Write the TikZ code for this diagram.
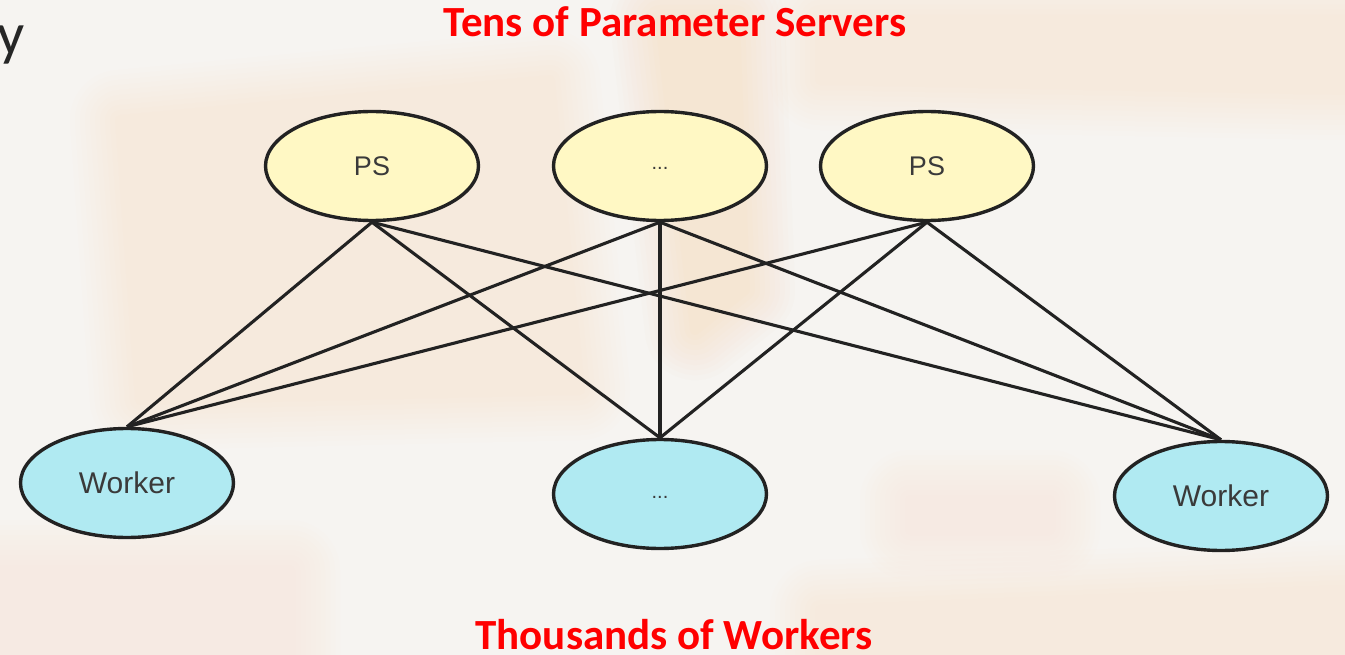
\documentclass[tikz,border=0pt]{standalone}
\usepackage{fontspec}
\usetikzlibrary{shapes.geometric}
\newfontfamily\titlefont{Carlito}
\newfontfamily\labelfont{Liberation Sans}

\definecolor{paper}{RGB}{246,244,241}
\definecolor{peach}{RGB}{252,224,182}
\definecolor{amber}{RGB}{245,205,150}
\definecolor{psfill}{RGB}{255,248,196}
\definecolor{wkfill}{RGB}{176,234,242}
\definecolor{edgeink}{RGB}{34,34,34}
\definecolor{labelink}{RGB}{58,58,58}
\definecolor{headred}{RGB}{255,0,0}

% a soft, hazy patch: the shape grown by ever smaller margins, each layer
% painted as one faint group so that layers only add up where they nest
\newcommand{\hazepatch}[3]{%
  \pgfmathsetmacro{\hazestep}{#2/10}%
  \foreach \w in {100,90,...,10}{%
    \begin{scope}[transparency group, opacity=\hazestep]
      \fill[#1, draw=#1, line width=\w pt, line join=round] #3;
    \end{scope}
  }%
}

\tikzset{
  server/.style={ellipse, draw=edgeink, line width=3.4pt, fill=psfill,
    minimum width=213pt, minimum height=109pt, inner sep=0pt,
    text=labelink, font=\labelfont\fontsize{27}{27}\selectfont},
  worker/.style={server, fill=wkfill, font=\labelfont\fontsize{30}{30}\selectfont},
  link/.style={draw=edgeink, line width=3.1pt},
  headline/.style={text=headred, inner sep=0pt, anchor=base,
    font=\titlefont\bfseries\fontsize{43}{43}\selectfont},
}

\begin{document}
\begin{tikzpicture}[x=1pt, y=-1pt]
  \useasboundingbox (0,0) rectangle (1345,655);
  \begin{scope}
    \clip (0,0) rectangle (1345,655);
    \fill[paper] (0,0) rectangle (1345,655);
    % warm blurred shapes of the backdrop
    \hazepatch{peach}{0.30}{(120,120) -- (550,80) -- (580,390) -- (140,400) -- cycle}
    \hazepatch{peach}{0.30}{(820,20) -- (1345,20) -- (1345,90) -- (820,80) -- cycle}
    \hazepatch{amber}{0.30}{(660,20) -- (735,20) -- (745,290) -- (695,330) -- cycle}
    \hazepatch{peach}{0.25}{(820,610) -- (1345,590) -- (1345,655) -- (820,655) -- cycle}
    \hazepatch{peach}{0.20}{(0,570) -- (290,570) -- (290,655) -- (0,655) -- cycle}
    \hazepatch{peach}{0.20}{(910,500) -- (1050,500) -- (1050,530) -- (910,530) -- cycle}
  \end{scope}

  % cut-off heading letter at the left edge
  \node[anchor=base east, inner sep=0pt, text=black!85,
        font=\titlefont\fontsize{60}{60}\selectfont] (cut) at (25,55) {y};

  % parameter servers
  \node[server] (ps1) at (372,166) {PS};
  \node[server] (ps2) at (660,166) {\raisebox{-8pt}{\fontsize{20}{20}\selectfont ...}};
  \node[server] (ps3) at (927,166) {PS};

  % workers
  \node[worker] (w1) at (127,483) {Worker};
  \node[worker] (w2) at (660,494) {\raisebox{-8pt}{\fontsize{20}{20}\selectfont ...}};
  \node[worker] (w3) at (1221,496) {Worker};

  % every server talks to every worker
  \foreach \p in {ps1,ps2,ps3}{
    \foreach \w in {w1,w2,w3}{
      \draw[link] (\p.south) -- (\w.north);
    }
  }

  \node[headline] (top) at (675,37) {Tens of Parameter Servers};
  \node[headline] (bottom) at (674,649) {Thousands of Workers};
\end{tikzpicture}
\end{document}
